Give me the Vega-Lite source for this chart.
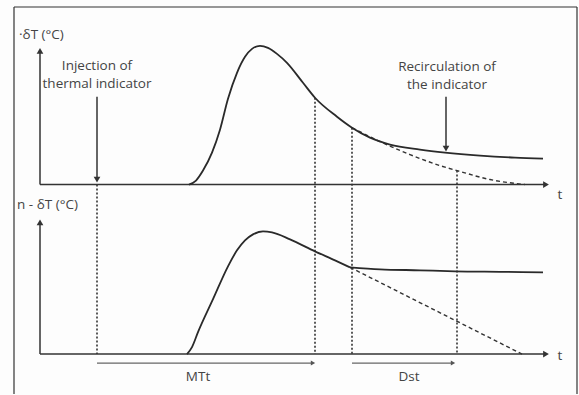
{
  "$schema": "https://vega.github.io/schema/vega-lite/v6.json",
  "width": 579,
  "height": 395,
  "autosize": {"type": "fit", "contains": "padding"},
  "padding": 0,
  "background": "#fdfdfd",
  "config": {"view": {"stroke": null}},
  "datasets": {
    "curves": [
      {"s": "u", "t": 189, "v": 185}, {"s": "u", "t": 196, "v": 181}, {"s": "u", "t": 203, "v": 171}, {"s": "u", "t": 212, "v": 153},
      {"s": "u", "t": 220, "v": 130}, {"s": "u", "t": 228, "v": 99}, {"s": "u", "t": 237, "v": 73}, {"s": "u", "t": 245, "v": 57},
      {"s": "u", "t": 252, "v": 49}, {"s": "u", "t": 260, "v": 46}, {"s": "u", "t": 268, "v": 48}, {"s": "u", "t": 277, "v": 54},
      {"s": "u", "t": 287, "v": 63}, {"s": "u", "t": 303, "v": 83}, {"s": "u", "t": 315, "v": 98}, {"s": "u", "t": 337, "v": 117},
      {"s": "u", "t": 352, "v": 128}, {"s": "u", "t": 370, "v": 138}, {"s": "u", "t": 390, "v": 145}, {"s": "u", "t": 420, "v": 150},
      {"s": "u", "t": 445, "v": 153}, {"s": "u", "t": 480, "v": 156}, {"s": "u", "t": 515, "v": 158}, {"s": "u", "t": 543, "v": 159},
      {"s": "l", "t": 187, "v": 355}, {"s": "l", "t": 192, "v": 348}, {"s": "l", "t": 198, "v": 333}, {"s": "l", "t": 213, "v": 300},
      {"s": "l", "t": 228, "v": 267}, {"s": "l", "t": 237, "v": 251}, {"s": "l", "t": 245, "v": 241}, {"s": "l", "t": 253, "v": 235},
      {"s": "l", "t": 263, "v": 232}, {"s": "l", "t": 272, "v": 233}, {"s": "l", "t": 290, "v": 240}, {"s": "l", "t": 315, "v": 252},
      {"s": "l", "t": 335, "v": 261}, {"s": "l", "t": 350, "v": 268},
      {"s": "l2", "t": 350, "v": 268}, {"s": "l2", "t": 380, "v": 270}, {"s": "l2", "t": 420, "v": 271}, {"s": "l2", "t": 455, "v": 272},
      {"s": "l2", "t": 500, "v": 272.5}, {"s": "l2", "t": 543, "v": 273}
    ],
    "dashed": [
      {"s": "ud", "t": 352, "v": 128}, {"s": "ud", "t": 380, "v": 142}, {"s": "ud", "t": 410, "v": 155}, {"s": "ud", "t": 440, "v": 166},
      {"s": "ud", "t": 457, "v": 171}, {"s": "ud", "t": 490, "v": 180}, {"s": "ud", "t": 525, "v": 185},
      {"s": "ld", "t": 350, "v": 268}, {"s": "ld", "t": 522, "v": 355}
    ],
    "frame": [
      {"t": 14, "v": 7, "t2": 577, "v2": 7},
      {"t": 14, "v": 7, "t2": 14, "v2": 395},
      {"t": 577, "v": 7, "t2": 577, "v2": 395}
    ],
    "axes": [
      {"t": 40, "v": 185, "t2": 546, "v2": 185},
      {"t": 40, "v": 355, "t2": 546, "v2": 355},
      {"t": 40, "v": 185, "t2": 40, "v2": 52},
      {"t": 40, "v": 355, "t2": 40, "v2": 224},
      {"t": 97, "v": 97, "t2": 97, "v2": 180},
      {"t": 446, "v": 97, "t2": 446, "v2": 148}
    ],
    "spans": [
      {"t": 97, "v": 364, "t2": 312, "v2": 364},
      {"t": 352, "v": 364, "t2": 452, "v2": 364}
    ],
    "dotted": [
      {"t": 97, "v": 185, "t2": 97, "v2": 355},
      {"t": 315, "v": 98, "t2": 315, "v2": 355},
      {"t": 352, "v": 128, "t2": 352, "v2": 355},
      {"t": 457, "v": 171, "t2": 457, "v2": 355}
    ],
    "heads": [
      {"t": 40, "v": 51, "shape": "triangle-up"},
      {"t": 40, "v": 223, "shape": "triangle-up"},
      {"t": 546, "v": 185, "shape": "triangle-right"},
      {"t": 546, "v": 355, "shape": "triangle-right"},
      {"t": 97, "v": 180, "shape": "triangle-down"},
      {"t": 446, "v": 149, "shape": "triangle-down"}
    ],
    "smallheads": [
      {"t": 313, "v": 364, "shape": "triangle-right"},
      {"t": 453, "v": 364, "shape": "triangle-right"}
    ],
    "labels": [
      {"t": 97, "v": 66, "txt": "Injection of"},
      {"t": 97, "v": 84, "txt": "thermal indicator"},
      {"t": 447, "v": 67, "txt": "Recirculation of"},
      {"t": 447, "v": 85, "txt": "the indicator"},
      {"t": 560, "v": 195, "txt": "t"},
      {"t": 560, "v": 357, "txt": "t"},
      {"t": 198, "v": 378, "txt": "MTt"},
      {"t": 409, "v": 378, "txt": "Dst"}
    ],
    "ylabels": [
      {"t": 19, "v": 35, "txt": "·δT (°C)"},
      {"t": 17, "v": 206, "txt": "n - δT (°C)"}
    ]
  },
  "encoding": {
    "x": {"field": "t", "type": "quantitative", "scale": {"domain": [0, 579], "nice": false, "zero": false}, "axis": null},
    "y": {"field": "v", "type": "quantitative", "scale": {"domain": [0, 395], "reverse": true, "nice": false, "zero": false}, "axis": null}
  },
  "layer": [
    {
      "data": {"name": "frame"},
      "mark": {"type": "rule", "stroke": "#333", "strokeWidth": 1.2},
      "encoding": {"x2": {"field": "t2"}, "y2": {"field": "v2"}}
    },
    {
      "data": {"name": "dotted"},
      "mark": {"type": "rule", "stroke": "#333", "strokeWidth": 1.6, "strokeDash": [2, 2]},
      "encoding": {"x2": {"field": "t2"}, "y2": {"field": "v2"}}
    },
    {
      "data": {"name": "axes"},
      "mark": {"type": "rule", "stroke": "#333", "strokeWidth": 1.5},
      "encoding": {"x2": {"field": "t2"}, "y2": {"field": "v2"}}
    },
    {
      "data": {"name": "spans"},
      "mark": {"type": "rule", "stroke": "#666", "strokeWidth": 1.4},
      "encoding": {"x2": {"field": "t2"}, "y2": {"field": "v2"}}
    },
    {
      "data": {"name": "heads"},
      "mark": {"type": "point", "filled": true, "opacity": 1, "color": "#333", "size": 45},
      "encoding": {"shape": {"field": "shape", "type": "nominal", "scale": null}}
    },
    {
      "data": {"name": "smallheads"},
      "mark": {"type": "point", "filled": true, "opacity": 1, "color": "#555", "size": 25},
      "encoding": {"shape": {"field": "shape", "type": "nominal", "scale": null}}
    },
    {
      "data": {"name": "dashed"},
      "mark": {"type": "line", "stroke": "#333", "strokeWidth": 1.4, "strokeDash": [4, 3], "interpolate": "monotone"},
      "encoding": {"detail": {"field": "s", "type": "nominal"}}
    },
    {
      "data": {"name": "curves"},
      "mark": {"type": "line", "stroke": "#2a2a2a", "strokeWidth": 1.8, "interpolate": "monotone"},
      "encoding": {"detail": {"field": "s", "type": "nominal"}}
    },
    {
      "data": {"name": "labels"},
      "mark": {"type": "text", "font": "Open Sans", "fontSize": 13.5, "fill": "#444", "align": "center", "baseline": "middle"},
      "encoding": {"text": {"field": "txt"}}
    },
    {
      "data": {"name": "ylabels"},
      "mark": {"type": "text", "font": "Open Sans", "fontSize": 13.5, "fill": "#444", "align": "left", "baseline": "middle"},
      "encoding": {"text": {"field": "txt"}}
    }
  ]
}
